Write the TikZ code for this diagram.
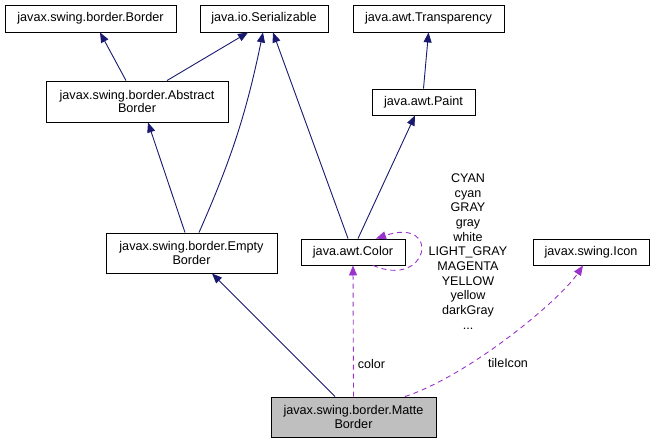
\documentclass[tikz,border=0pt]{standalone}
\usepackage{fontspec}
\setmainfont{Liberation Sans}
\usetikzlibrary{arrows.meta}
\definecolor{navy}{HTML}{191970}
\definecolor{orchid}{HTML}{9A32CD}
\begin{document}
\begin{tikzpicture}[x=1bp,y=-1bp,
  box/.style={draw=black, line width=0.9bp, fill=white, inner sep=0pt, align=center,
    font=\fontsize{12.7}{14}\selectfont},
  inh/.style={draw=navy, line width=0.9bp, -{Triangle[length=10bp,width=8bp]}},
  dep/.style={draw=orchid, line width=0.9bp, dash pattern=on 5bp off 4bp,
    -{Triangle[length=10bp,width=8bp]}},
  lbl/.style={inner sep=0pt, font=\fontsize{12.6}{14.7}\selectfont, align=center}]
\useasboundingbox (0,0) rectangle (655,443);
\node[box, minimum width=171bp, minimum height=27bp] (bd) at (90.5,18.5) {javax.swing.border.Border};
\node[box, minimum width=128bp, minimum height=27bp] (ser) at (264,18.5) {java.io.Serializable};
\node[box, minimum width=151bp, minimum height=27bp] (tr) at (428.5,18.5) {java.awt.Transparency};
\node[box, minimum width=103bp, minimum height=26bp] (pt) at (423.5,102) {java.awt.Paint};
\node[box, minimum width=182bp, minimum height=41bp] (ab) at (137,101.5) {javax.swing.border.Abstract\\Border};
\node[box, minimum width=171bp, minimum height=40bp] (eb) at (191.5,253) {javax.swing.border.Empty\\Border};
\node[box, minimum width=104bp, minimum height=26bp] (col) at (353,252) {java.awt.Color};
\node[box, minimum width=116bp, minimum height=26bp] (ic) at (591,252) {javax.swing.Icon};
\node[box, fill={rgb,255:red,191;green,191;blue,191}, minimum width=165bp, minimum height=40bp] (mb) at (353.5,417) {javax.swing.border.Matte\\Border};

\draw[inh] ([xshift=-11bp]ab.north) -- ([xshift=9.5bp]bd.south);
\draw[inh] ([xshift=30bp]ab.north) -- ([xshift=-16bp]ser.south);
\draw[inh] ([xshift=-6.5bp]eb.north) -- ([xshift=11bp]ab.south);
\draw[inh] ([xshift=7.5bp]eb.north) to[bend right=6] ([xshift=-1bp]ser.south);
\draw[inh] ([xshift=-5bp]col.north) -- ([xshift=9bp]ser.south);
\draw[inh] ([xshift=5bp]col.north) -- ([xshift=-8.5bp]pt.south);
\draw[inh] (pt.north) -- (tr.south);
\draw[inh] ([xshift=-18.5bp]mb.north) -- ([xshift=20.5bp]eb.south);

\draw[dep] ([xshift=20bp]col.south) .. controls +(56,24) and +(66,-22) .. ([xshift=23bp]col.north);
\draw[dep] (mb.north) -- node[lbl, anchor=west, xshift=4bp, pos=0.25] (lc) {color} (col.south);
\draw[dep] ([xshift=51.5bp]mb.north) .. controls (470,375) and (560,300) .. ([xshift=-8bp]ic.south);
\node[lbl, anchor=west] (lt) at (488,363) {tileIcon};
\node[lbl] (lcol) at (468,251.5) {CYAN\\cyan\\GRAY\\gray\\white\\LIGHT\_GRAY\\MAGENTA\\YELLOW\\yellow\\darkGray\\...};
\end{tikzpicture}
\end{document}
